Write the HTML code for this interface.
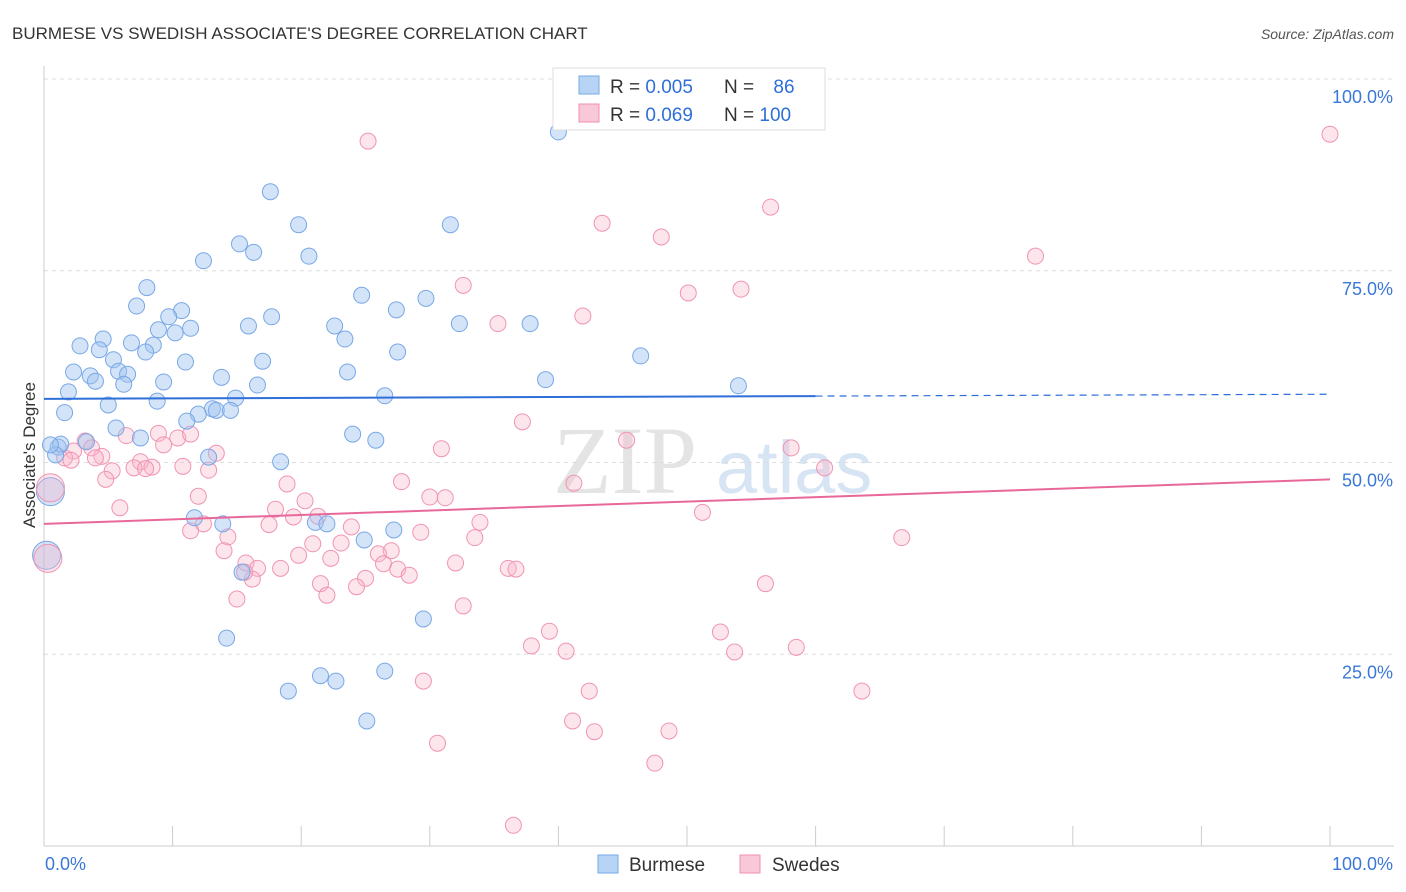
<!DOCTYPE html>
<html><head><meta charset="utf-8"><style>
body{margin:0;background:#fff;font-family:"Liberation Sans",sans-serif;}
svg{display:block}
</style></head><body>
<svg id="chart" width="1406" height="892">
<text x="12" y="39" font-size="17" fill="#333">BURMESE VS SWEDISH ASSOCIATE'S DEGREE CORRELATION CHART</text>
<text x="1394" y="39" font-size="14" fill="#555" font-style="italic" text-anchor="end">Source: ZipAtlas.com</text>
<g>
<text x="553" y="493" font-size="96" font-family="Liberation Serif,serif" fill="#e4e4e4">ZIP</text>
<text x="716" y="493" font-size="74" fill="#d7e4f4">atlas</text>
</g>
<g id="grid"></g>
<g id="axes"></g>
<g id="marks"></g>
<g id="trends"></g>
<text x="35" y="455" font-size="17" fill="#333" text-anchor="middle" transform="rotate(-90 35 455)">Associate's Degree</text>
<g>
<rect x="553" y="68" width="272" height="62" fill="#fff" stroke="#ddd"/>
<rect x="579" y="76" width="20" height="18" fill="#b8d4f4" stroke="#7aaae8"/>
<rect x="579" y="104" width="20" height="18" fill="#f9c8d8" stroke="#f090b0"/>
<text x="610" y="93" font-size="19" fill="#333">R = <tspan fill="#2f6fd8">0.005</tspan></text>
<text x="724" y="93" font-size="19" fill="#333">N = <tspan fill="#2f6fd8" dx="14">86</tspan></text>
<text x="610" y="121" font-size="19" fill="#333">R = <tspan fill="#2f6fd8"> 0.069</tspan></text>
<text x="724" y="121" font-size="19" fill="#333">N = <tspan fill="#2f6fd8">100</tspan></text>
</g>
<g>
<rect x="598" y="855" width="20" height="18" fill="#b8d4f4" stroke="#7aaae8"/>
<text x="629" y="871" font-size="19" fill="#333">Burmese</text>
<rect x="740" y="855" width="20" height="18" fill="#f9c8d8" stroke="#f090b0"/>
<text x="772" y="871" font-size="19" fill="#333">Swedes</text>
</g>
</svg>
<script>
const blueX=[40.0,17.6,19.8,31.6,15.2,16.3,20.6,12.4,8.0,24.7,29.7,7.2,10.7,9.7,27.4,17.7,15.9,22.6,32.3,37.8,11.4,8.9,10.2,23.4,4.6,6.8,2.8,8.5,4.3,7.9,27.5,5.4,11.0,17.0,46.4,2.3,5.8,3.6,23.6,6.5,4.0,6.2,13.8,9.3,39.0,16.6,54.0,1.9,26.5,14.9,8.8,5.0,13.1,13.4,14.5,12.0,1.6,11.1,5.6,7.5,24.0,25.8,1.1,1.3,3.3,12.8,18.4,11.7,13.9,21.1,22.0,24.9,27.2,15.4,29.5,14.2,21.5,22.7,26.5,19.0,25.1,0.9,0.5];
const blueY=[93.1,85.3,81.0,81.0,78.5,77.4,76.9,76.3,72.8,71.8,71.4,70.4,69.8,69.0,69.9,69.0,67.8,67.8,68.1,68.1,67.5,67.3,66.9,66.1,66.1,65.6,65.2,65.3,64.7,64.4,64.4,63.4,63.1,63.2,63.9,61.8,61.9,61.3,61.8,61.5,60.6,60.2,61.1,60.5,60.8,60.1,60.0,59.2,58.7,58.4,58.0,57.5,57.0,56.8,56.8,56.3,56.5,55.4,54.5,53.2,53.7,52.9,52.0,52.4,52.7,50.7,50.1,42.8,42.0,42.2,42.0,39.9,41.2,35.7,29.6,27.1,22.2,21.5,22.8,20.2,16.3,51.0,52.3];
const blueBigX=[0.5,0.2];
const blueBigY=[46.2,37.9];
const pinkX=[100.0,25.2,56.5,43.4,48.0,77.1,32.6,54.2,50.1,41.9,35.3,37.2,45.3,30.9,58.1,60.7,41.2,27.8,51.2,66.7,56.1,52.6,53.7,58.5,63.6,39.3,37.9,40.6,42.4,29.5,32.6,41.1,42.8,48.6,47.5,30.6,36.5,6.4,8.9,10.4,11.4,9.3,13.4,3.2,3.7,4.5,2.3,1.6,4.0,2.1,7.5,7.0,8.4,7.9,10.8,12.8,5.3,4.8,5.9,12.0,18.9,20.3,30.0,31.2,33.9,33.5,32.0,36.1,36.7,27.0,26.0,23.9,23.1,20.9,19.8,21.3,17.5,18.0,19.4,22.3,12.4,11.4,14.3,14.0,15.7,16.6,18.4,16.2,15.6,15.0,25.0,24.3,21.5,22.0,26.4,27.5,28.4,29.3];
const pinkY=[92.8,91.9,83.3,81.2,79.4,76.9,73.1,72.6,72.1,69.1,68.1,55.3,52.9,51.8,51.9,49.3,47.3,47.5,43.5,40.2,34.2,27.9,25.3,25.9,20.2,28.0,26.1,25.4,20.2,21.5,31.3,16.3,14.9,15.0,10.8,13.4,2.7,53.5,53.8,53.2,53.7,52.3,51.2,52.8,51.9,50.8,51.5,50.6,50.6,50.3,50.1,49.3,49.4,49.2,49.5,49.0,48.9,47.8,44.1,45.6,47.2,45.0,45.5,45.4,42.2,40.2,36.9,36.2,36.1,38.5,38.1,41.6,39.5,39.4,37.9,43.0,41.9,43.9,42.9,37.5,42.0,41.1,40.3,38.5,36.9,36.2,36.2,34.8,35.7,32.2,34.9,33.8,34.2,32.7,36.8,36.1,35.3,40.9];
const pinkBigX=[0.5,0.3];
const pinkBigY=[46.7,37.5];
const yTicks=[25,50,75,100];
const yTickLabels=["25.0%","50.0%","75.0%","100.0%"];
const xTicks=[0,10,20,30,40,50,60,70,80,90,100];
const blueTrend=[58.3,58.9];
const pinkTrend=[42.0,47.8];

const NS="http://www.w3.org/2000/svg";
const X0=44,X1=1330,Y0=846,Y1=79;
const sx=v=>X0+(X1-X0)*v/100;
const sy=v=>Y0-(Y0-Y1)*v/100;
function mk(tag,attrs,parent){const e=document.createElementNS(NS,tag);for(const k in attrs)e.setAttribute(k,attrs[k]);parent.appendChild(e);return e;}
const grid=document.getElementById('grid'),axes=document.getElementById('axes'),marks=document.getElementById('marks'),trends=document.getElementById('trends');
yTicks.forEach((t,i)=>{
 const l=mk('line',{x1:X0,x2:1394,y1:sy(t),y2:sy(t),stroke:'#ddd','stroke-dasharray':'4,4'},grid);
 
 
 const tx=mk('text',{x:1393,y:sy(t)+24,'font-size':18,fill:'#3a78d8','text-anchor':'end'},axes);
 tx.textContent=yTickLabels[i];
 
 
});
const ax=mk('line',{x1:X0,x2:1394,y1:Y0,y2:Y0,stroke:'#ccc'},axes);


const ay=mk('line',{x1:X0,x2:X0,y1:66,y2:Y0,stroke:'#ccc'},axes);


xTicks.forEach(t=>{
 const l=mk('line',{x1:sx(t),x2:sx(t),y1:826,y2:Y0,stroke:'#ccc'},axes);
 
 
});
const xl0=mk('text',{x:45,y:870,'font-size':18,fill:'#3a78d8'},axes);xl0.textContent='0.0%';


const xl1=mk('text',{x:1393,y:870,'font-size':18,fill:'#3a78d8','text-anchor':'end'},axes);xl1.textContent='100.0%';


function dots(xs,ys,r,fill,stroke,name){xs.forEach((x,i)=>{
 const c=mk('circle',{cx:sx(x),cy:sy(ys[i]),r:r,fill:fill,stroke:stroke,'stroke-width':1},marks);
 
 
});}
dots(pinkX,pinkY,8,'rgba(248,180,200,0.35)','#f094b4','swedes-point');
dots(blueX,blueY,8,'rgba(160,196,240,0.45)','#78a8e6','burmese-point');
dots(blueBigX,blueBigY,14,'rgba(160,196,240,0.45)','#78a8e6','burmese-point-large');
dots(pinkBigX,pinkBigY,14,'rgba(248,180,200,0.35)','#f094b4','swedes-point-large');
const bt=(v)=>blueTrend[0]+(blueTrend[1]-blueTrend[0])*v/100;
const b1=mk('line',{x1:sx(0),y1:sy(bt(0)),x2:sx(60),y2:sy(bt(60)),stroke:'#2f6fd8','stroke-width':2},trends);


const b2=mk('line',{x1:sx(60),y1:sy(bt(60)),x2:sx(100),y2:sy(bt(100)),stroke:'#2f6fd8','stroke-width':1.2,'stroke-dasharray':'7,5'},trends);


const p1=mk('line',{x1:sx(0),y1:sy(pinkTrend[0]),x2:sx(100),y2:sy(pinkTrend[1]),stroke:'#e8689a','stroke-width':2},trends);


</script>
</body></html>
